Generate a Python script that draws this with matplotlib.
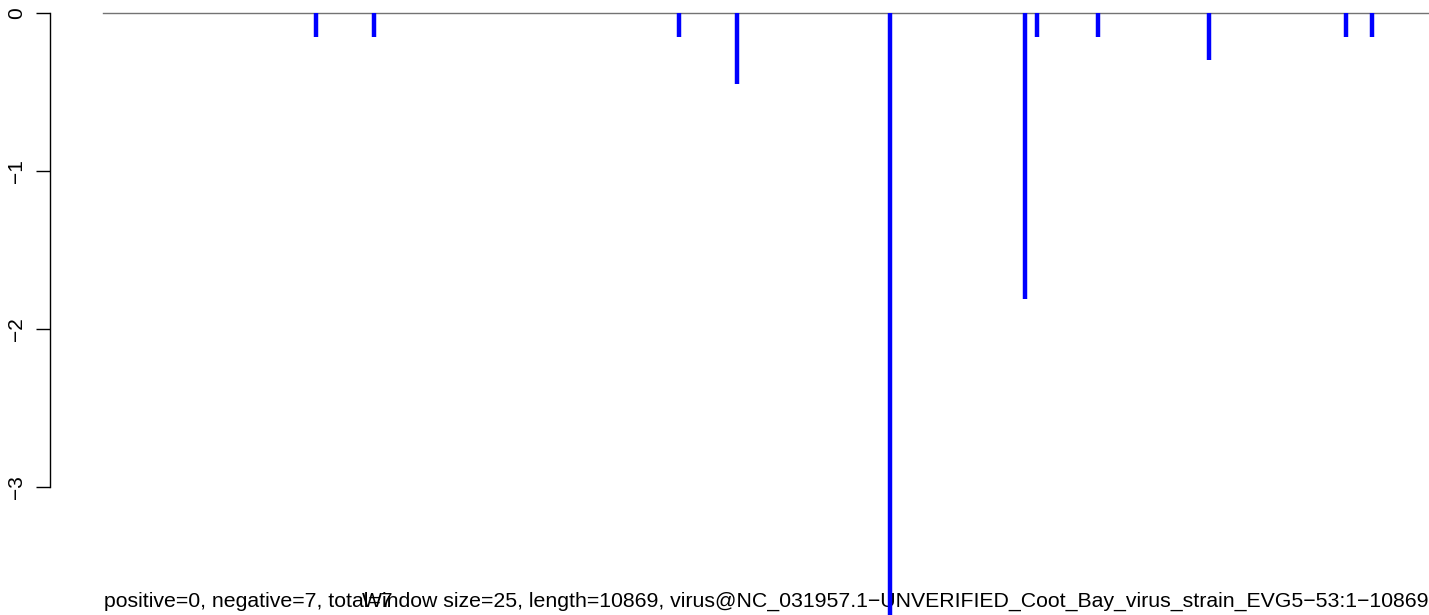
import matplotlib

matplotlib.use('Agg')

import matplotlib.pyplot as plt

# window positions (nt) and scores of the hits
POSITIONS = [1746, 2221, 4721, 5197, 6447, 7558, 7656, 8156, 9062, 10185, 10398]
SCORES = [-0.15, -0.15, -0.15, -0.45, -3.9, -1.81, -0.15, -0.15, -0.30, -0.15, -0.15]
LENGTH = 10869
YTICKS = [0, -1, -2, -3]

INFO = 'positive=0, negative=7, total=7'
TITLE = ('Window size=25, length=10869, '
         'virus@NC_031957.1\u2212UNVERIFIED_Coot_Bay_virus_strain_EVG5\u221253:1\u221210869')

plt.rcParams['font.family'] = ['Liberation Sans', 'DejaVu Sans']
plt.rcParams['axes.unicode_minus'] = True

W, H = 1429, 615
fig = plt.figure(figsize=(W / 100, H / 100), dpi=100)
ax = fig.add_axes([50 / W, 0, 1 - 50 / W, 1])

px = LENGTH / (1429 - 103)
ax.set_xlim(-53 * px, LENGTH)
ax.set_ylim(-(H - 13) / 158, 13 / 158)

ax.vlines(POSITIONS, 0, SCORES, color='blue', lw=3.2, zorder=3)
ax.plot([0, LENGTH], [0, 0], color='0.45', lw=1, zorder=2)

for s in ['top', 'right', 'bottom']:
    ax.spines[s].set_visible(False)
ax.spines['left'].set_bounds(min(YTICKS), max(YTICKS))
ax.spines['left'].set_linewidth(1)
ax.set_xticks([])
ax.set_yticks(YTICKS)
ax.set_yticklabels([f'{t:d}'.replace('-', '\u2212') for t in YTICKS],
                   rotation=90, va='center', fontsize=15)
ax.tick_params(axis='y', length=10, width=1, pad=7)

# bottom captions sit under the bars, as in the original
for xpix, s in [(104, INFO), (362, TITLE)]:
    ax.text(xpix / W, 1 - 607 / H, s, fontsize=15.3, va='baseline',
            transform=fig.transFigure, zorder=1, clip_on=False)

fig.savefig('out.png', dpi=100)
